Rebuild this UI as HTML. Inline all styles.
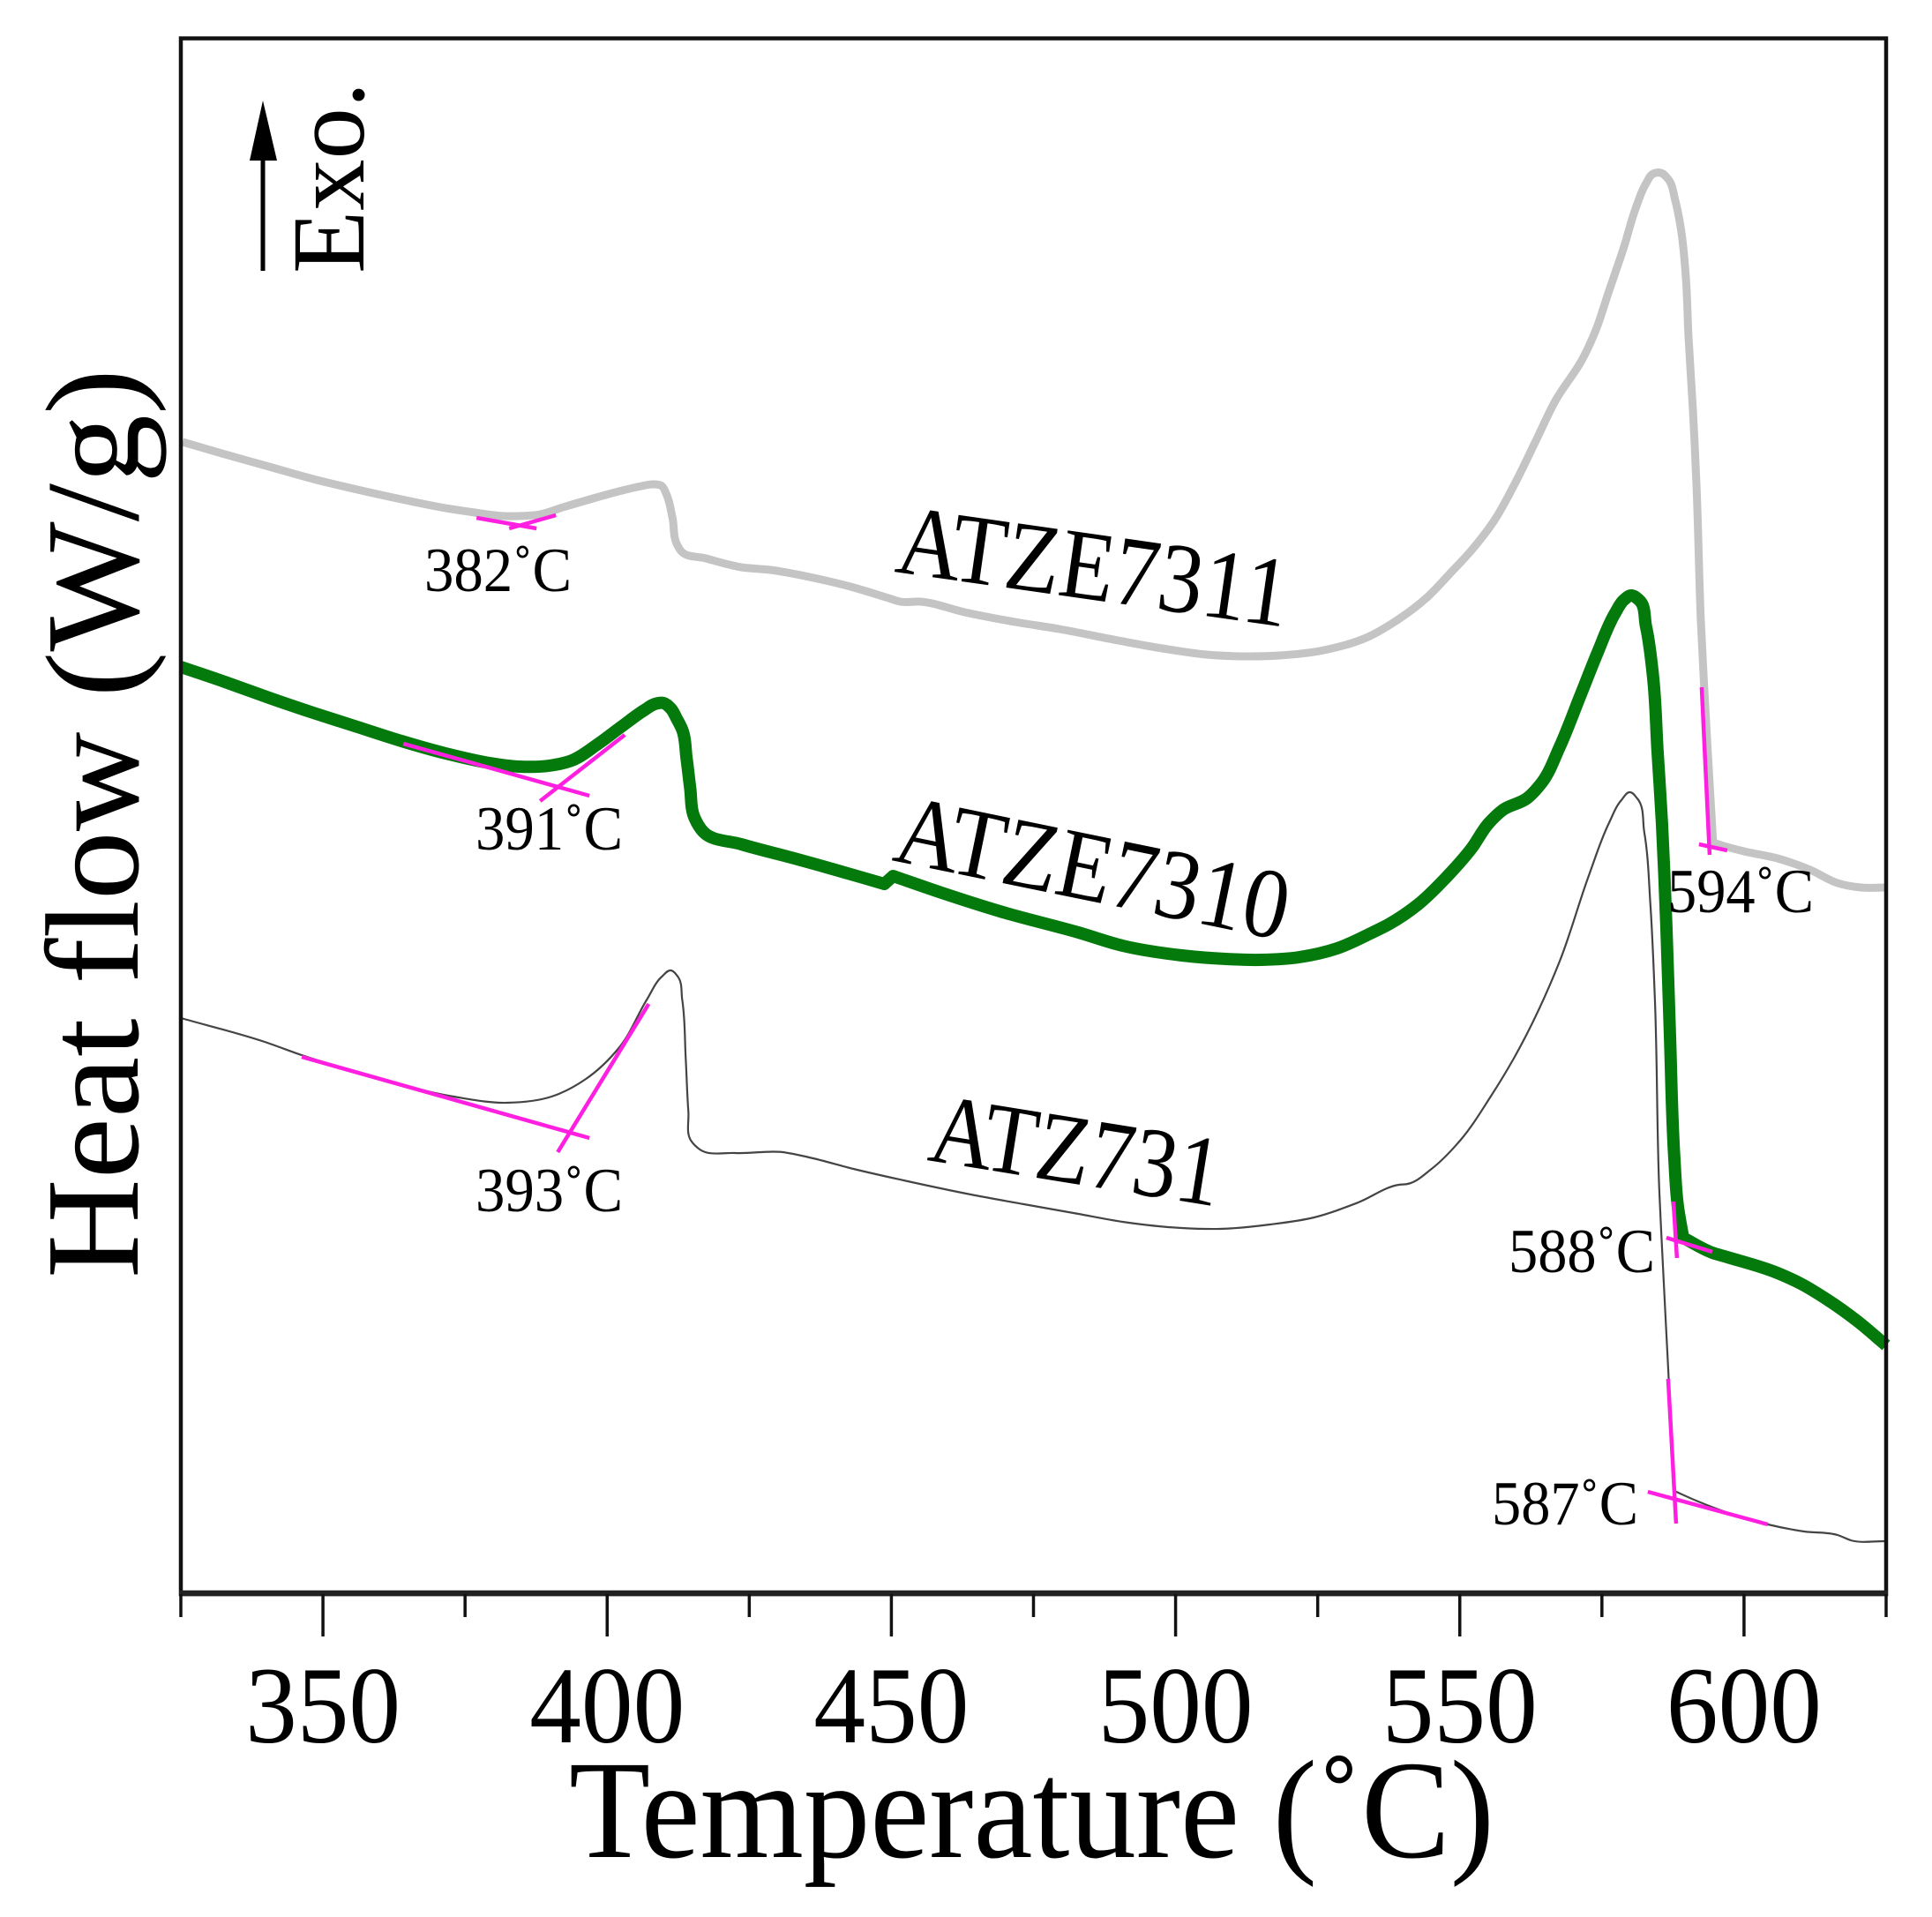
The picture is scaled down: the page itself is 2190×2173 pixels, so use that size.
<!DOCTYPE html>
<html lang="en">
<head>
<meta charset="utf-8">
<title>DSC Heat Flow vs Temperature</title>
<style>
  html, body { margin: 0; padding: 0; background: #fff; }
  svg { display: block; }
  text { font-family: "Liberation Serif", serif; fill: #000; }
</style>
</head>
<body>
<svg id="chart" xmlns="http://www.w3.org/2000/svg" width="2190" height="2173" viewBox="0 0 2190 2173">
  <rect x="0" y="0" width="2190" height="2173" fill="#fff"/>
  <g id="series-layer"></g>
  <g id="tangent-layer"></g>
  <rect x="205" y="43.5" width="1933" height="1763.5" fill="none" stroke="#111" stroke-width="4.5"/>
  <line x1="203" y1="1806" x2="2140" y2="1806" stroke="#222" stroke-width="6.5"/>
  <g id="tick-layer"></g>
  <g id="tick-label-layer"></g>

  <text x="645" y="2105" font-size="159" textLength="1049" lengthAdjust="spacingAndGlyphs">Temperature (˚C)</text>
  <text transform="translate(156,1449) rotate(-90)" font-size="151" textLength="1031" lengthAdjust="spacingAndGlyphs">Heat flow (W/g)</text>

  <g>
    <line x1="298" y1="307" x2="298" y2="175" stroke="#000" stroke-width="5"/>
    <polygon points="298,114 314,182 283,182" fill="#000"/>
  </g>
  <text transform="translate(412,310) rotate(-90)" font-size="118" textLength="217" lengthAdjust="spacingAndGlyphs">Exo.</text>

  <text transform="translate(1013,648) rotate(8.07)" font-size="113" textLength="447" lengthAdjust="spacingAndGlyphs">ATZE7311</text>
  <text transform="translate(1010,975) rotate(11.6)" font-size="113" textLength="452" lengthAdjust="spacingAndGlyphs">ATZE7310</text>
  <text transform="translate(1050,1315) rotate(9.1)" font-size="113" textLength="332" lengthAdjust="spacingAndGlyphs">ATZ731</text>

  <text x="481" y="670" font-size="71" textLength="167" lengthAdjust="spacingAndGlyphs">382˚C</text>
  <text x="539" y="963" font-size="71" textLength="167" lengthAdjust="spacingAndGlyphs">391˚C</text>
  <text x="539" y="1373" font-size="71" textLength="167" lengthAdjust="spacingAndGlyphs">393˚C</text>
  <text x="1890" y="1034" font-size="71" textLength="166" lengthAdjust="spacingAndGlyphs">594˚C</text>
  <text x="1710" y="1442" font-size="71" textLength="166" lengthAdjust="spacingAndGlyphs">588˚C</text>
  <text x="1691" y="1728" font-size="71" textLength="166" lengthAdjust="spacingAndGlyphs">587˚C</text>
</svg>
<script>
const xTicksMajor = [350, 400, 450, 500, 550, 600];
const xTicksMinor = [325, 375, 425, 475, 525, 575, 625];
const xTickLabels = ["350", "400", "450", "500", "550", "600"];

const atze7311Temp = [325.31,332.76,340.53,348.29,356.06,363.82,371.58,376.71,381.99,384.47,388.2,392.24,397.52,402.64,406.06,408.07,409.63,410.4,411.49,412.27,413.04,417.39,423.6,428.73,435.56,442.24,449.53,451.55,455.12,462.89,471.74,479.5,489.91,497.67,505.44,513.2,518.32,526.09,533.85,538.98,544.26,548.29,552.02,556.06,559.78,563.35,566.93,571.58,573.76,576.24,578.88,580.9,582.76,584,585.4,586.65,587.89,588.98,589.75,590.22,591,591.62,592.4,593.64,594.56,595.96,600,605.9,611.65,616.46,620.5,625];
const atze7311Flow = [652.5,645.5,638.5,631.5,625.5,620,615,612.5,610.5,610.5,611.5,615.5,620.5,625,627.5,628.5,627.5,623,609.5,594.5,590.5,586.5,581.5,580,576,571,564,562,562,556,550.5,546.5,540,535.5,532,531,531.5,534.5,542,551.5,564.5,578,591,608,629.5,653,676.5,699.5,714.5,738,763,784.5,799,804.5,805,801.5,789.5,771.5,746.5,713,671.5,629.5,552,476.5,425.5,424,420.5,416.5,410,402.5,400,400];

const atze7310Temp = [325,332.76,340.53,348.29,356.06,363.82,371.58,379.35,384.47,389.75,393.79,398.45,402.64,406.52,408.39,409.94,411.18,412.27,413.2,413.98,414.6,415.37,416.93,423.6,432.92,440.68,448.76,450.31,458.85,469.1,482.92,490.68,501.09,508.85,515.06,521.74,528.42,534.63,537.42,542.7,547.83,552.02,555.12,557.6,561.8,564.44,567.55,571.12,574.22,577.33,578.88,580.12,581.52,582.76,584,584.78,585.56,586.34,586.96,587.73,588.35,589.29,594.42,597.05,605.9,610.25,614.6,620.03,625];
const atze7310Flow = [525,516.5,507.5,499,491,483,476,470.5,468.5,469,472,481.5,491.5,500.5,504,504.5,501.5,495.5,489.5,473,456.5,439.5,431.5,424.5,416.5,409.5,402,406.5,397,386.5,374.5,367,361.5,359.5,359,360.5,365.5,374.5,379,390.5,406.5,422,436.5,444,450.5,459.5,479.5,508,533,555.5,563,565.5,563,548,519.5,478,436.5,378,317,247,219.5,201.5,193,190.5,181.5,175,166.5,154,140.5];

const atz731Temp = [325,339.75,346.27,357.61,372.98,382.45,390.22,396.27,402.17,406.99,409.63,411.18,412.42,413.2,413.82,414.29,414.75,416.3,422.52,430.9,435.56,443.32,453.57,463.97,473.29,482.92,490.68,501.09,507.76,516.61,524.38,532.14,539.29,540.84,545.03,550.16,555.43,559.47,561.8,567.55,572.67,576.24,578.42,579.97,581.21,582.45,583.54,584.32,585.1,585.72,586.65,587.73,591.93,604.19,610.56,616.46,618.79,625];
const atz731Flow = [326,312.5,305,294,281.5,278,281.5,291.5,309.5,336.5,349.5,353,349.5,336.5,303,273,256.5,251.5,249.5,250,247,240.5,233,226,220.5,215,210.5,207,206.5,209,213,221.5,231.5,232,240.5,257,281.5,303,317,358,406.5,436.5,449.5,454,450.5,431.5,389.5,336.5,228,186.5,128,58,52,39,35,33,30,29.5];

const tangentNames = ["onset-382-a","onset-382-b","onset-391-a","onset-391-b","onset-393-a","onset-393-b","onset-594-a","onset-594-b","onset-588-a","onset-588-b","onset-587-a","onset-587-b"];
const tangentStartTemp = [377.02,382.76,364.13,388.2,346.27,391.3,592.55,592.08,587.58,586.34,586.65,583.08];
const tangentStartFlow = [609.5,603.5,481.5,449,304,250,513.5,424.5,222,201.5,121.5,57.5];
const tangentEndTemp = [387.58,390.99,396.89,403.1,396.89,407.3,593.95,597.05,588.2,594.41,588.05,604.19];
const tangentEndFlow = [603.5,611,452,486.5,258,334,418.5,421,190,193.5,39.5,39];

const SVG_NS = "http://www.w3.org/2000/svg";
const xScale = t => 205 + (t - 325) * (2138 - 205) / 300;
const yScale = h => 1806 - h * 2;

const seriesLayer = document.getElementById("series-layer");
const tangentLayer = document.getElementById("tangent-layer");
const tickLayer = document.getElementById("tick-layer");
const tickLabelLayer = document.getElementById("tick-label-layer");

function unitVector(a, b) {
  const dx = b[0] - a[0];
  const dy = b[1] - a[1];
  const len = Math.hypot(dx, dy) || 1;
  return [dx / len, dy / len, len];
}

function smoothPath(points) {
  const last = points.length - 1;
  const handles = points.map((p, i) => {
    if (i === 0 || i === last) {
      const u = i === 0 ? unitVector(p, points[1]) : unitVector(points[last - 1], p);
      return { inDir: u, outDir: u };
    }
    const u1 = unitVector(points[i - 1], p);
    const u2 = unitVector(p, points[i + 1]);
    const cosTurn = u1[0] * u2[0] + u1[1] * u2[1];
    const turnDeg = Math.acos(Math.max(-1, Math.min(1, cosTurn))) * 180 / Math.PI;
    if (turnDeg > 50 && Math.min(u1[2], u2[2]) > 8.5 && u1[2] + u2[2] > 30) {
      return { inDir: u1, outDir: u2 };
    }
    const tx = u1[0] * u2[2] + u2[0] * u1[2];
    const ty = u1[1] * u2[2] + u2[1] * u1[2];
    const len = Math.hypot(tx, ty) || 1;
    const t = [tx / len, ty / len];
    return { inDir: t, outDir: t };
  });
  let d = "M" + points[0][0].toFixed(1) + " " + points[0][1].toFixed(1);
  for (let i = 0; i < last; i++) {
    const a = points[i];
    const b = points[i + 1];
    const h = Math.hypot(b[0] - a[0], b[1] - a[1]) * 0.33;
    d += " C" + (a[0] + handles[i].outDir[0] * h).toFixed(1) + " " + (a[1] + handles[i].outDir[1] * h).toFixed(1) +
         " " + (b[0] - handles[i + 1].inDir[0] * h).toFixed(1) + " " + (b[1] - handles[i + 1].inDir[1] * h).toFixed(1) +
         " " + b[0].toFixed(1) + " " + b[1].toFixed(1);
  }
  return d;
}

function drawSeries(name, temps, flows, color, width) {
  const pts = temps.map((t, i) => [xScale(t), yScale(flows[i])]);
  const line = document.createElementNS(SVG_NS, "path");
  line.setAttribute("d", smoothPath(pts));
  line.setAttribute("fill", "none");
  line.setAttribute("stroke", color);
  line.setAttribute("stroke-width", width);
  line.setAttribute("stroke-linejoin", "round");
  line.setAttribute("stroke-linecap", "butt");
  
  
  seriesLayer.appendChild(line);
}
drawSeries("curve-atze7311", atze7311Temp, atze7311Flow, "#c4c4c4", 9);
drawSeries("curve-atze7310", atze7310Temp, atze7310Flow, "#047a0c", 14);
drawSeries("curve-atz731", atz731Temp, atz731Flow, "#444444", 2.2);

tangentNames.forEach((name, i) => {
  const seg = document.createElementNS(SVG_NS, "line");
  seg.setAttribute("x1", xScale(tangentStartTemp[i]));
  seg.setAttribute("y1", yScale(tangentStartFlow[i]));
  seg.setAttribute("x2", xScale(tangentEndTemp[i]));
  seg.setAttribute("y2", yScale(tangentEndFlow[i]));
  seg.setAttribute("stroke", "#ff1fe0");
  seg.setAttribute("stroke-width", "4.5");
  
  
  tangentLayer.appendChild(seg);
});

xTicksMajor.forEach(t => {
  const tick = document.createElementNS(SVG_NS, "line");
  tick.setAttribute("x1", xScale(t));
  tick.setAttribute("x2", xScale(t));
  tick.setAttribute("y1", 1807);
  tick.setAttribute("y2", 1855);
  tick.setAttribute("stroke", "#111");
  tick.setAttribute("stroke-width", "3.5");
  
  
  tickLayer.appendChild(tick);
});
xTicksMinor.forEach(t => {
  const tick = document.createElementNS(SVG_NS, "line");
  tick.setAttribute("x1", xScale(t));
  tick.setAttribute("x2", xScale(t));
  tick.setAttribute("y1", 1807);
  tick.setAttribute("y2", 1833);
  tick.setAttribute("stroke", "#111");
  tick.setAttribute("stroke-width", "3.5");
  
  
  tickLayer.appendChild(tick);
});
xTicksMajor.forEach((t, i) => {
  const label = document.createElementNS(SVG_NS, "text");
  label.setAttribute("x", xScale(t));
  label.setAttribute("y", 1975);
  label.setAttribute("text-anchor", "middle");
  label.setAttribute("font-size", "124");
  label.setAttribute("textLength", "176");
  label.setAttribute("lengthAdjust", "spacingAndGlyphs");
  
  
  label.textContent = xTickLabels[i];
  tickLabelLayer.appendChild(label);
});
</script>
</body>
</html>
